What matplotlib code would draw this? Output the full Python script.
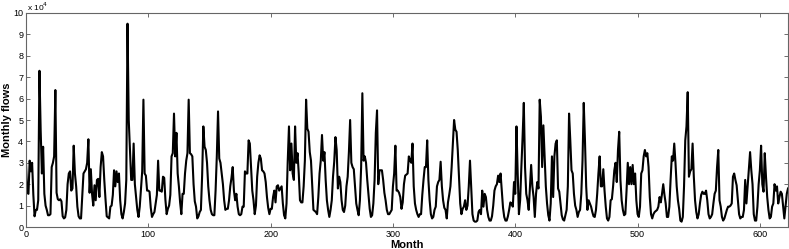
import matplotlib
matplotlib.use("Agg")
import matplotlib.pyplot as plt
import numpy as np

# Monthly flows, in units of 1e4
flows = [
    2.97, 1.6, 1.55, 3.1, 2.6, 3.0, 1.5, 0.5, 0.8, 0.8, 1.25,
    7.3, 4.5, 2.5, 3.75, 1.55, 1.0, 0.8, 0.55, 0.55, 0.6,
    2.8, 3.0, 3.3, 6.4, 1.6, 1.3, 1.25, 1.3, 1.2, 0.5,
    0.4, 0.45, 0.8, 2.0, 2.5, 2.6, 1.7, 1.8, 3.8, 2.5,
    1.9, 0.95, 0.5, 0.4, 0.4, 1.5, 2.5, 2.6, 2.7, 3.0,
    4.1, 1.6, 2.7, 1.55, 1.0, 1.95, 1.25, 2.2, 2.25, 1.4,
    2.8, 3.5, 3.3, 2.2, 1.3, 0.5, 0.45, 0.4, 0.95, 1.0,
    1.5, 2.65, 1.9, 2.6, 2.1, 2.5, 1.25, 0.6, 0.4, 0.7,
    1.1, 2.2, 9.5, 5.0, 3.6, 2.2, 2.2, 3.9, 2.0, 1.4,
    0.8, 0.47, 0.95, 1.8, 2.6, 5.95, 2.5, 2.4, 1.7, 1.7,
    1.65, 0.9, 0.47, 0.6, 0.7, 1.1, 1.5, 3.1, 1.7, 1.7,
    1.65, 2.35, 2.3, 1.25, 0.6, 0.85, 1.0, 1.5, 3.3, 3.45,
    5.3, 3.3, 4.4, 2.5, 1.9, 1.15, 0.6, 1.55, 1.55, 2.5,
    3.1, 3.45, 5.95, 3.45, 3.4, 3.3, 2.0, 1.2, 0.95, 0.4,
    0.5, 0.7, 0.8, 2.4, 4.7, 3.75, 3.6, 3.0, 1.9, 1.25,
    0.8, 0.6, 0.55, 0.55, 1.7, 3.3, 5.4, 3.2, 3.0, 2.5,
    2.0, 1.25, 0.8, 0.85, 0.85, 1.25, 1.9, 2.3, 2.8, 1.7,
    1.25, 1.55, 0.95, 0.6, 0.55, 0.6, 0.95, 0.95, 2.6, 2.5,
    2.5, 4.05, 3.9, 2.8, 1.7, 1.25, 0.6, 1.0, 2.35, 3.0,
    3.35, 3.2, 2.65, 2.6, 2.5, 2.1, 1.4, 0.9, 0.6, 0.85,
    0.85, 1.4, 1.7, 1.15, 1.9, 1.95, 1.7, 1.8, 1.9, 1.1,
    0.55, 0.4, 1.1, 3.1, 4.7, 2.65, 3.9, 2.5, 2.2, 4.7,
    3.0, 3.45, 2.5, 1.25, 1.15, 1.15, 1.9, 3.1, 5.95, 4.6,
    4.45, 3.5, 3.1, 1.9, 0.8, 0.75, 0.7, 0.6, 1.4, 2.5,
    3.1, 4.3, 3.1, 3.5, 2.2, 1.25, 0.8, 0.47, 0.8, 1.25,
    2.35, 3.05, 4.2, 3.6, 1.8, 2.35, 2.1, 1.25, 0.8, 0.7,
    1.0, 1.9, 2.35, 3.5, 5.0, 3.0, 2.8, 2.7, 1.9, 1.1,
    0.8, 0.55, 1.25, 2.8, 6.25, 3.1, 3.3, 3.0, 2.2, 1.55,
    0.85, 0.47, 0.55, 1.1, 2.2, 4.4, 5.45, 2.0, 2.65, 2.65,
    2.65, 2.2, 1.6, 1.25, 0.8, 0.6, 0.6, 0.7, 0.8, 1.9,
    2.5, 3.8, 1.7, 1.7, 1.6, 1.4, 0.85, 1.15, 2.0, 2.4,
    2.45, 2.5, 3.3, 3.1, 3.0, 3.9, 1.9, 1.1, 0.8, 0.6,
    0.47, 0.6, 0.6, 1.5, 2.2, 2.8, 2.8, 4.05, 2.2, 1.25,
    0.6, 0.4, 0.47, 0.8, 0.95, 1.9, 2.1, 2.2, 3.05, 1.9,
    1.25, 0.9, 0.8, 0.4, 1.15, 1.5, 1.9, 2.8, 3.9, 5.0,
    4.55, 4.45, 3.6, 2.35, 1.1, 0.6, 0.85, 0.95, 1.25, 0.8,
    1.0, 1.9, 3.1, 1.9, 0.6, 0.3, 0.25, 0.25, 0.3, 0.7,
    0.8, 0.6, 1.7, 0.95, 1.55, 1.4, 0.8, 0.47, 0.3, 0.3,
    0.5, 1.0, 1.7, 1.9, 2.0, 2.4, 2.1, 2.5, 1.7, 0.9,
    0.47, 0.3, 0.3, 0.5, 0.8, 1.15, 1.1, 0.95, 2.1, 1.55,
    4.7, 2.5, 0.6, 1.25, 2.8, 4.2, 5.8, 2.8, 1.55, 1.25,
    0.8, 1.9, 2.9, 1.9, 1.4, 0.47, 1.55, 2.1, 1.8, 5.95,
    5.15, 2.8, 4.75, 3.3, 1.9, 1.1, 0.55, 0.3, 1.1, 3.3,
    1.4, 3.3, 3.9, 4.05, 1.8, 1.65, 1.1, 0.55, 0.35, 0.3,
    0.55, 0.8, 1.9, 5.3, 4.05, 2.65, 2.5, 1.55, 1.0, 0.8,
    0.47, 0.7, 0.8, 1.55, 3.1, 5.8, 4.05, 1.9, 0.8, 1.25,
    1.1, 0.95, 0.7, 0.5, 0.47, 0.8, 1.55, 2.5, 3.3, 1.9,
    1.9, 2.7, 1.7, 0.95, 0.4, 0.3, 0.47, 1.25, 1.3, 1.9,
    2.65, 3.0, 2.1, 3.6, 4.45, 2.2, 1.25, 0.8, 0.55, 0.6,
    1.7, 3.0, 2.0, 2.8, 2.0, 2.9, 2.0, 2.5, 1.25, 0.6,
    0.47, 0.95, 2.5, 2.65, 3.3, 3.6, 3.3, 3.45, 2.8, 1.4,
    0.6, 0.4, 0.6, 0.7, 0.75, 0.8, 0.95, 1.4, 1.15, 1.55,
    2.0, 1.5, 1.1, 0.47, 0.47, 0.95, 2.2, 3.3, 3.1, 3.9,
    3.0, 1.9, 1.25, 0.85, 0.3, 0.25, 0.47, 1.9, 4.05, 4.7,
    6.3, 2.35, 2.6, 2.7, 3.9, 2.35, 1.25, 0.7, 0.4, 0.6,
    1.1, 1.5, 1.65, 1.55, 1.55, 1.7, 1.25, 0.6, 0.4, 0.47,
    0.6, 1.1, 1.55, 1.7, 2.8, 3.6, 1.25, 0.95, 0.47, 0.3,
    0.4, 0.6, 0.8, 0.95, 0.95, 1.0, 1.1, 2.35, 2.5, 2.2,
    1.95, 1.25, 0.6, 0.4, 0.47, 0.47, 0.8, 2.2, 1.1, 1.9,
    2.65, 3.5, 2.65, 2.0, 0.6, 0.3, 0.3, 0.95, 2.0, 2.65,
    3.8, 2.0, 1.65, 3.45, 2.35, 1.4, 0.8, 0.4, 0.47, 0.95,
    1.1, 2.0, 1.7, 1.9, 1.1, 1.4, 1.65, 1.55, 0.95, 0.4,
    0.95, 1.55, 1.8,
]
months = np.arange(len(flows))

x_ticks = [0, 100, 200, 300, 400, 500, 600]
y_ticks = list(range(0, 11))

plt.rcParams['font.family'] = ['Liberation Sans', 'DejaVu Sans']

W, H = 789, 249
fig = plt.figure(figsize=(W / 100, H / 100), dpi=100)
ax = fig.add_axes([26 / W, 22 / H, 762 / W, 214 / H])

ax.plot(months, flows, color='black', lw=1.5)
ax.set_xlim(0, 623)
ax.set_ylim(0, 10)
ax.set_xticks(x_ticks)
ax.set_yticks(y_ticks)
ax.tick_params(direction='in', length=3, width=0.6, color='#555555',
               labelsize=6.5, top=True, right=True, pad=2)
for s in ax.spines.values():
    s.set_color('#666666')
    s.set_linewidth(0.8)

ax.set_xlabel('Month', fontsize=8, fontweight='bold', labelpad=1)
fig.text(7.5 / W, 1 - 120 / H, 'Monthly flows', fontsize=8, fontweight='bold',
         rotation=90, ha='center', va='center')
fig.text(27 / W, 1 - 7 / H, r'x 10$^{4}$', fontsize=6, va='center', ha='left')

fig.savefig('out.png', dpi=100)
